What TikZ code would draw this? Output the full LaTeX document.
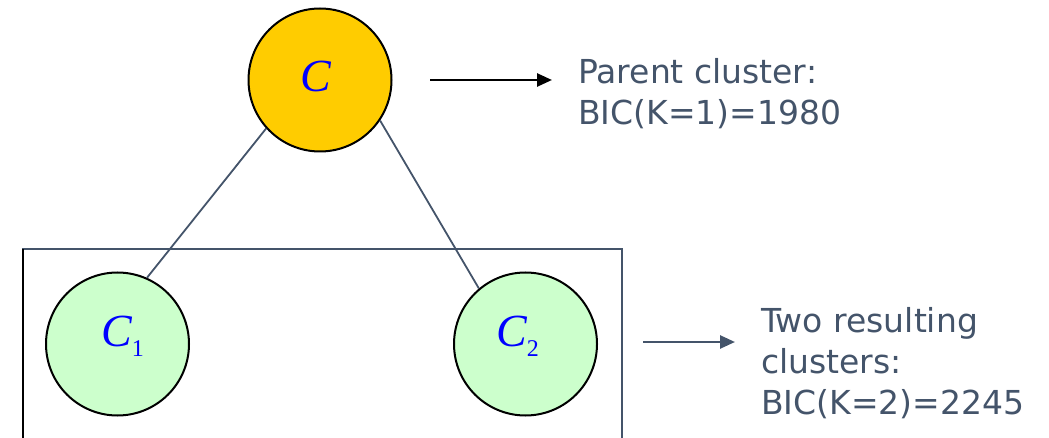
\documentclass[tikz,border=0pt]{standalone}
\usepackage{fontspec}
\setmainfont{DejaVu Sans}
\newfontfamily\mathserif{Liberation Serif}
\usetikzlibrary{arrows.meta}
\definecolor{goldfill}{HTML}{FFCC00}
\definecolor{greenfill}{HTML}{CCFFCC}
\definecolor{slate}{HTML}{44546A}
\definecolor{clblue}{HTML}{0000FF}
\tikzset{
  cluster/.style={circle, draw=black, line width=2pt, minimum size=143pt, inner sep=0pt},
  clabel/.style={text=clblue, inner sep=0pt, font=\mathserif\itshape\fontsize{46}{46}\selectfont},
  link/.style={draw=slate, line width=1.8pt},
  info/.style={text=slate, anchor=north west, align=left, inner sep=0pt, font=\fontsize{33}{41}\selectfont},
  pointer/.style={line width=2.6pt, -{Triangle[length=15pt,width=13pt]}}
}
\newcommand{\subnum}[1]{\raisebox{-10pt}{\upshape\fontsize{24}{24}\selectfont #1}}
\begin{document}
\begin{tikzpicture}[x=1pt,y=-1pt]
\useasboundingbox (0,0) rectangle (1049,438);
% box
\draw[slate, line width=1.8pt] (23,460) -- (23,249) -- (622,249) -- (622,460);
\draw[black, line width=1.8pt] (23,460) -- (23,249);
% circles
\node[cluster, fill=goldfill] (c) at (320,80) {};
\node[cluster, fill=greenfill] (c1) at (117.5,344) {};
\node[cluster, fill=greenfill] (c2) at (525.5,344) {};
% labels
\node[clabel] (lc) at (316,76) {C};
\node[clabel, anchor=west] (lc1) at (101,336) {C\subnum{1}};
\node[clabel, anchor=west] (lc2) at (496,336) {C\subnum{2}};
% links
\draw[link] (c.-138) -- (c1.66);
\draw[link] (c.-34) -- (c2.130);
% arrows
\coordinate (a1s) at (430,80);
\coordinate (a1e) at (552,80);
\coordinate (a2s) at (643,342);
\coordinate (a2e) at (735,342);
\draw[pointer, black] (a1s) -- (a1e);
\draw[pointer, slate] (a2s) -- (a2e);
% info texts
\node[info] (t1) at (578,58) {Parent cluster:\\BIC(K=1)=1980};
\node[info] (t2) at (761,307) {Two resulting\\clusters:\\BIC(K=2)=2245};
\end{tikzpicture}
\end{document}
